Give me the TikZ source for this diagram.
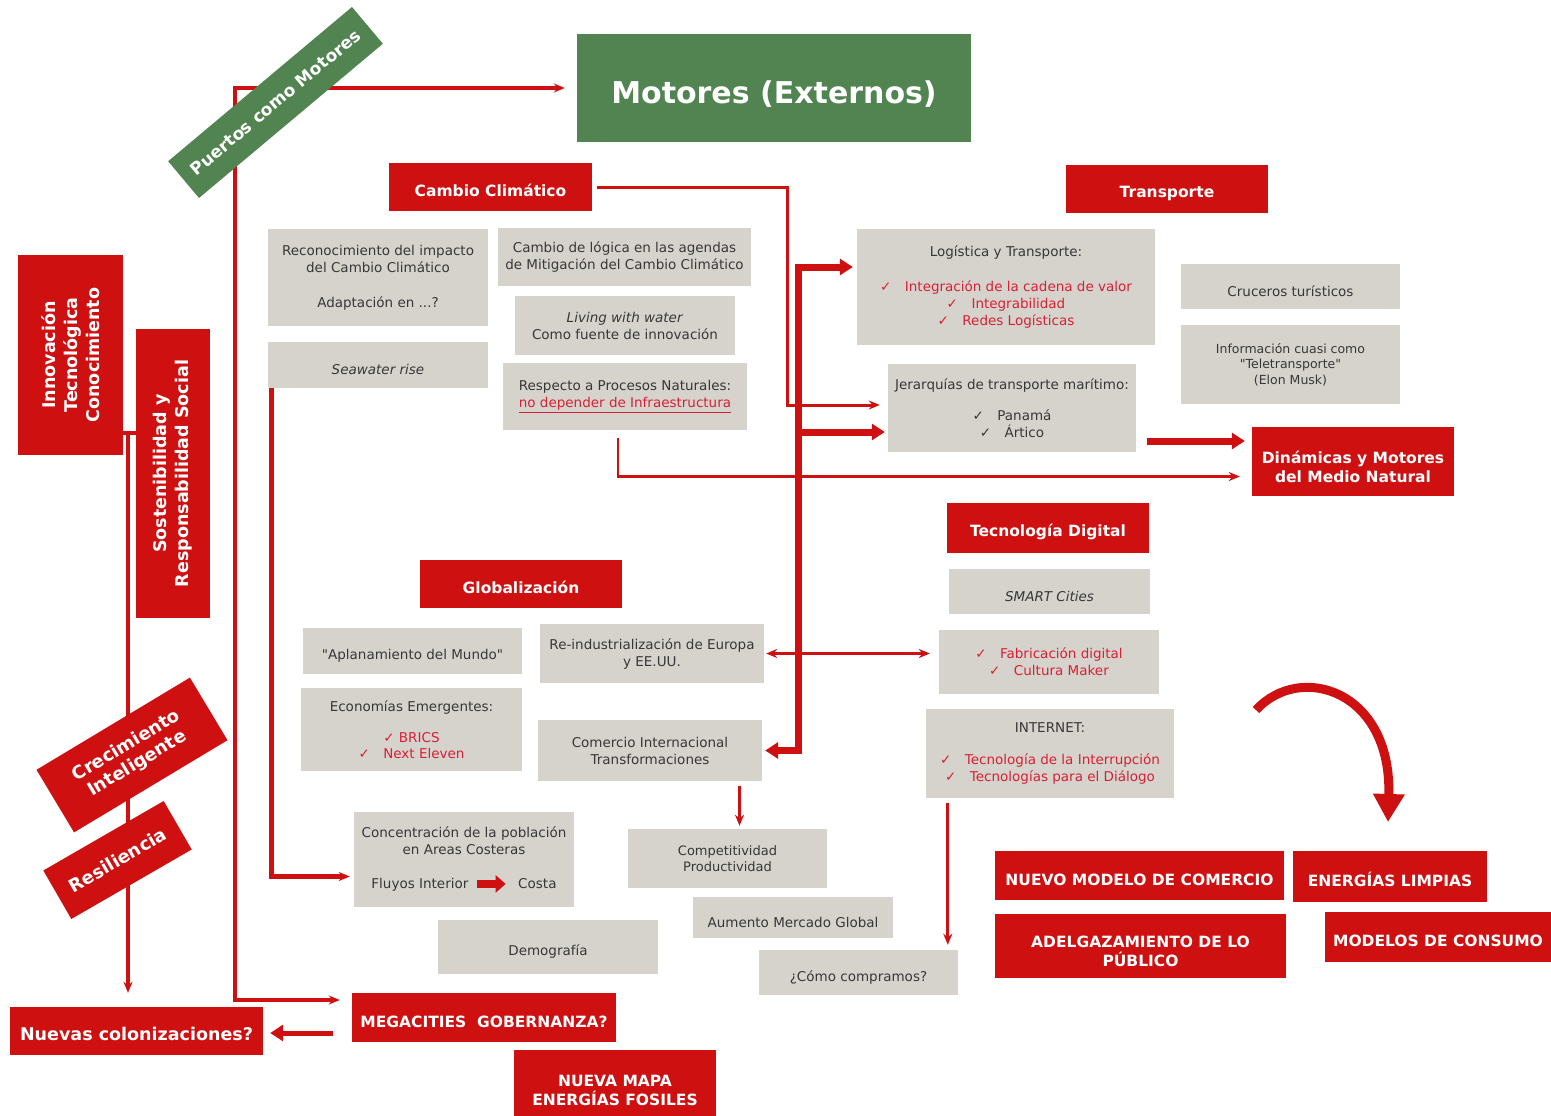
\documentclass[tikz,border=0pt]{standalone}
\usepackage{fontspec}
\setmainfont{DejaVu Sans}[Ligatures=TeXOff]
\usetikzlibrary{arrows.meta}
\definecolor{portred}{RGB}{206,16,17}
\definecolor{portgray}{RGB}{214,211,205}
\definecolor{portgreen}{RGB}{82,132,82}
\definecolor{checkred}{RGB}{214,32,54}
\definecolor{graytext}{RGB}{55,55,55}
\tikzset{
  box/.style={inner sep=2pt, align=center, anchor=center},
  oneline/.style={text height=20pt},
  redbox/.style={box, fill=portred, text=white, font=\bfseries\fontsize{15.5}{19}\selectfont},
  graybox/.style={box, fill=portgray, text=graytext, font=\fontsize{13.5}{17}\selectfont},
  greenbox/.style={box, fill=portgreen, text=white, font=\bfseries\fontsize{17}{20}\selectfont},
  link/.style={draw=portred, line width=3.5pt, >={Stealth[length=11pt,width=9pt]}},
  trunk/.style={draw=portred, line width=7pt, >={Triangle[length=13pt,width=16pt]}},
}
\begin{document}
\begin{tikzpicture}[x=1pt,y=-1pt]
    \fill[white] (0,0) rectangle (1551,1116);
    \useasboundingbox (0,0) rectangle (1551,1116);

    \node[greenbox, font=\bfseries\fontsize{30}{34}\selectfont, text height=34pt, minimum width=394pt, minimum height=108pt] (motores) at (774,88) {Motores (Externos)};

    \node[redbox, oneline, minimum width=203pt, minimum height=48pt] (cambio) at (490.5,187) {Cambio Climático};
    \node[redbox, oneline, minimum width=202pt, minimum height=48pt] (transporte) at (1167,189) {Transporte};
    \node[redbox, oneline, minimum width=202pt, minimum height=48pt] (globalizacion) at (521,584) {Globalización};
    \node[redbox, oneline, minimum width=202pt, minimum height=50pt] (tecnologia) at (1048,528) {Tecnología Digital};
    \node[redbox, text height=42pt, minimum width=202pt, minimum height=69pt] (dinamicas) at (1353,461.5) {Dinámicas y Motores\\del Medio Natural};
    \node[redbox, oneline, minimum width=289pt, minimum height=49pt] (nuevo) at (1139.5,875.5) {NUEVO MODELO DE COMERCIO};
    \node[redbox, oneline, minimum width=194pt, minimum height=51pt] (limpias) at (1390,876.5) {ENERGÍAS LIMPIAS};
    \node[redbox, text height=42pt, minimum width=291pt, minimum height=64pt] (adelgazamiento) at (1140.5,946) {ADELGAZAMIENTO DE LO\\PÚBLICO};
    \node[redbox, oneline, minimum width=226pt, minimum height=50pt] (consumo) at (1438,937) {MODELOS DE CONSUMO};
    \node[redbox, oneline, minimum width=264pt, minimum height=49pt] (megacities) at (484,1017.5) {MEGACITIES\ \ GOBERNANZA?};
    \node[redbox, text height=42pt, minimum width=202pt, minimum height=70pt] (mapa) at (615,1085) {NUEVA MAPA\\ENERGÍAS FOSILES};
    \node[redbox, oneline, font=\bfseries\fontsize{17.5}{21}\selectfont, minimum width=253pt, minimum height=48pt] (nuevas) at (136.5,1031) {Nuevas colonizaciones?};
    \node[redbox, font=\bfseries\fontsize{17.5}{22}\selectfont, rotate=90, minimum width=200pt, minimum height=105pt] (innovacion) at (70.5,355) {Innovación\\Tecnológica\\Conocimiento};
    \node[redbox, font=\bfseries\fontsize{17.5}{22}\selectfont, rotate=90, minimum width=289pt, minimum height=74pt] (sostenibilidad) at (173,473.5) {Sostenibilidad y\\Responsabilidad Social};

    \node[graybox, minimum width=220pt, minimum height=97pt] (reconocimiento) at (378,277.5) {Reconocimiento del impacto\\del Cambio Climático\\[18pt]Adaptación en ...?};
    \node[graybox, oneline, minimum width=220pt, minimum height=46pt] (seawater) at (378,365) {\itshape Seawater rise};
    \node[graybox, minimum width=253pt, minimum height=58pt] (logica) at (624.5,257) {Cambio de lógica en las agendas\\de Mitigación del Cambio Climático};
    \node[graybox, minimum width=220pt, minimum height=59pt] (living) at (625,325.5) {\textit{Living with water}\\Como fuente de innovación};
    \node[graybox, minimum width=244pt, minimum height=67pt] (respecto) at (625,396.5) {Respecto a Procesos Naturales:\\\textcolor{checkred}{\underline{no depender de Infraestructura}}};
    \node[graybox, minimum width=298pt, minimum height=116pt] (logistica) at (1006,287) {Logística y Transporte:\\[18pt]\textcolor{checkred}{✓\quad Integración de la cadena de valor}\\\textcolor{checkred}{✓\quad Integrabilidad}\\\textcolor{checkred}{✓\quad Redes Logísticas}};
    \node[graybox, oneline, minimum width=219pt, minimum height=45pt] (cruceros) at (1290.5,286.5) {Cruceros turísticos};
    \node[graybox, font=\fontsize{12.5}{15.5}\selectfont, minimum width=219pt, minimum height=79pt] (informacion) at (1290.5,364.5) {Información cuasi como\\"Teletransporte"\\(Elon Musk)};
    \node[graybox, minimum width=248pt, minimum height=88pt] (jerarquias) at (1012,408) {Jerarquías de transporte marítimo:\\[14pt]✓\quad Panamá\\✓\quad Ártico};
    \node[graybox, oneline, minimum width=219pt, minimum height=46pt] (aplanamiento) at (412.5,651) {"Aplanamiento del Mundo"};
    \node[graybox, minimum width=221pt, minimum height=83pt] (economias) at (411.5,729.5) {Economías Emergentes:\\[14pt]\textcolor{checkred}{✓ BRICS}\\[-1pt]\textcolor{checkred}{✓\quad Next Eleven}};
    \node[graybox, minimum width=224pt, minimum height=59pt] (reindustrializacion) at (652,653.5) {Re-industrialización de Europa\\y EE.UU.};
    \node[graybox, minimum width=224pt, minimum height=61pt] (comercio) at (650,750.5) {Comercio Internacional\\Transformaciones};
    \node[graybox, font=\fontsize{13}{15.5}\selectfont, minimum width=199pt, minimum height=59pt] (competitividad) at (727.5,858.5) {Competitividad\\Productividad};
    \node[graybox, oneline, minimum width=200pt, minimum height=41pt] (aumento) at (793,917.5) {Aumento Mercado Global};
    \node[graybox, oneline, minimum width=199pt, minimum height=45pt] (compramos) at (858.5,972.5) {¿Cómo compramos?};
    \node[graybox, minimum width=220pt, minimum height=95pt] (concentracion) at (464,859.5) {Concentración de la población\\en Areas Costeras\\[17pt]Fluyos Interior \tikz[baseline=-0.6ex]\draw[portred, line width=8pt, -{Triangle[length=10pt,width=17pt]}] (0pt,0pt) -- (29pt,0pt); \ Costa};
    \node[graybox, oneline, minimum width=220pt, minimum height=54pt] (demografia) at (548,947) {Demografía};
    \node[graybox, oneline, minimum width=201pt, minimum height=45pt] (smart) at (1049.5,591.5) {\itshape SMART Cities};
    \node[graybox, minimum width=220pt, minimum height=64pt] (fabricacion) at (1049,662) {\textcolor{checkred}{✓\quad Fabricación digital}\\\textcolor{checkred}{✓\quad Cultura Maker}};
    \node[graybox, minimum width=248pt, minimum height=89pt] (internet) at (1050,753.5) {INTERNET:\\[15pt]\textcolor{checkred}{✓\quad Tecnología de la Interrupción}\\\textcolor{checkred}{✓\quad Tecnologías para el Diálogo}};

    \draw[link,<->,shorten <=12pt,shorten >=12pt] (motores.west) -| (235,1000) -- (235,1000 -| megacities.west);
    \coordinate (split) at (128,433);
    \draw[link] (innovacion.south |- split) -- (sostenibilidad.north |- split);
    \draw[link,->,shorten >=14pt] (split) -- (split |- nuevas.north);
    \draw[link,->,line width=5pt,shorten >=4pt] ([xshift=4pt]seawater.south west) |- ([yshift=-17pt]concentracion.west);
    \draw[link,->,line width=3pt,shorten <=5pt,shorten >=8pt] (cambio.east) -| (787,405) -- (787,405 -| jerarquias.west);
    \draw[trunk,<->,shorten <=3pt,shorten >=4pt] (comercio.east) -| (798,267) -- (798,267 -| logistica.west);
    \draw[trunk,->,shorten >=3pt] (798,432) -- (798,432 -| jerarquias.west);
    \draw[link,->,line width=2.5pt,shorten <=8pt,shorten >=12pt] ([xshift=-7pt]respecto.south) |- ([yshift=-15pt]dinamicas.west);
    \draw[trunk,->,shorten <=11pt,shorten >=7pt] (jerarquias.east |- 0,441) -- (dinamicas.west |- 0,441);
    \draw[link,<->,line width=3pt,shorten <=2pt,shorten >=9pt] (reindustrializacion.east) -- (reindustrializacion.east -| fabricacion.west);
    \coordinate (cp) at ([xshift=12pt]competitividad.north);
    \draw[link,->,line width=3pt,shorten <=5pt,shorten >=3pt] (cp |- comercio.south) -- (cp);
    \coordinate (ip) at ([xshift=22pt]internet.south west);
    \draw[link,->,line width=3pt,shorten <=5pt,shorten >=5pt] (ip) -- (ip |- compramos.north);
    \draw[trunk,->,line width=5pt,shorten <=19pt,shorten >=7pt] (megacities.west |- 0,1033) -- (nuevas.east |- 0,1033);
    \draw[draw=portred, line width=9pt, -{Triangle[length=28pt,width=30pt]}] (1256,710) .. controls (1300,662) and (1392,690) .. (1388,822);

    \node[greenbox, rotate=40, minimum width=240pt, minimum height=48pt] (puertos) at (275.5,102.5) {Puertos como Motores};
    \node[redbox, font=\bfseries\fontsize{18}{21}\selectfont, rotate=31, minimum width=179pt, minimum height=73pt] (crecimiento) at (132,755) {Crecimiento\\Inteligente};
    \node[redbox, font=\bfseries\fontsize{18}{21}\selectfont, rotate=30, minimum width=139pt, minimum height=56pt] (resiliencia) at (117.5,860) {Resiliencia};
\end{tikzpicture}
\end{document}
